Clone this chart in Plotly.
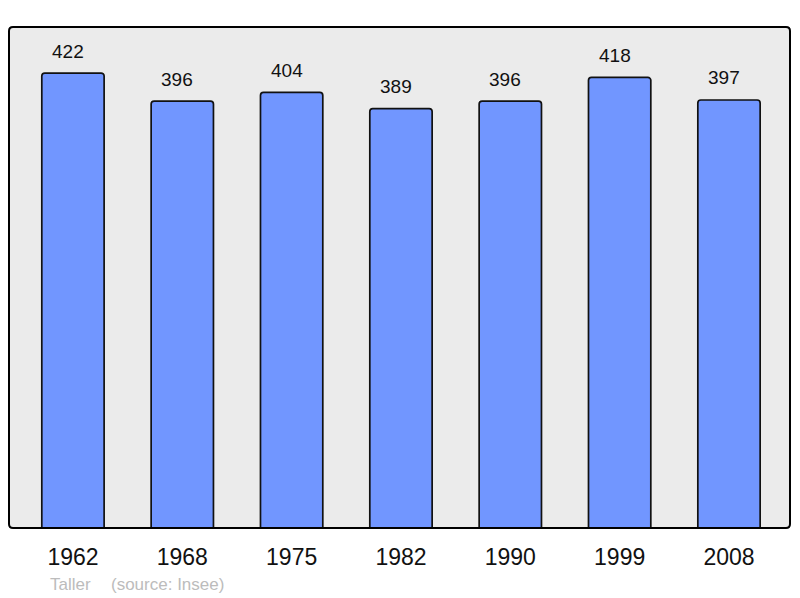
import plotly.graph_objects as go

years = ["1962", "1968", "1975", "1982", "1990", "1999", "2008"]
population = [422, 396, 404, 389, 396, 418, 397]
commune = "Taller"
source = "(source: Insee)"

OFF = 8  # default page body margin
W, H = 800 - OFF, 598 - OFF
L, R, T, B = 9 - OFF, W - (790 - OFF), 27 - OFF, H - (528 - OFF)
pw, ph = W - L - R, H - T - B
FONT = "Liberation Sans, Arial, sans-serif"

fig = go.Figure()
fig.add_trace(go.Bar(
    x=years, y=population, width=0.57,
    marker=dict(color="#7196ff", line=dict(color="#111111", width=1.7), cornerradius=3),
    hoverinfo="skip",
))

for i, v in enumerate(population):
    fig.add_annotation(x=i, y=v, text=str(v), showarrow=False, xshift=-5, yshift=22,
                       font=dict(family=FONT, size=19, color="#111111"))

def px(x):
    return (x - OFF - L) / pw

def py(y):
    return 1 - (y - OFF - T) / ph

fig.add_annotation(xref="paper", yref="paper", x=px(48), y=py(584), xanchor="left", yanchor="middle",
                   text=commune, showarrow=False,
                   font=dict(family=FONT, size=17, color="#bcbcbc"))
fig.add_annotation(xref="paper", yref="paper", x=px(109), y=py(584), xanchor="left", yanchor="middle",
                   text=source, showarrow=False,
                   font=dict(family=FONT, size=17, color="#bcbcbc"))

# rounded border of plot area
r = 4.0
rx, ry = r / pw, r / ph
path = (f"M {rx},0 L {1-rx},0 Q 1,0 1,{ry} L 1,{1-ry} Q 1,1 {1-rx},1 "
        f"L {rx},1 Q 0,1 0,{1-ry} L 0,{ry} Q 0,0 {rx},0 Z")
fig.add_shape(type="path", xref="paper", yref="paper", path=path,
              line=dict(color="#000000", width=2), layer="above")

fig.update_layout(
    width=W, height=H,
    margin=dict(l=L, r=R, t=T, b=B),
    paper_bgcolor="#ffffff", plot_bgcolor="#ebebeb",
    showlegend=False,
    xaxis=dict(type="category", range=[-0.585, 6.558], showgrid=False, zeroline=False,
               ticks="outside", ticklen=8, tickcolor="rgba(0,0,0,0)",
               tickfont=dict(family=FONT, size=23, color="#111111"),
               showline=False, fixedrange=True),
    yaxis=dict(range=[0, 464.7], showgrid=False, zeroline=False, showticklabels=False,
               showline=False, fixedrange=True),
)

fig.write_html("out.html")
